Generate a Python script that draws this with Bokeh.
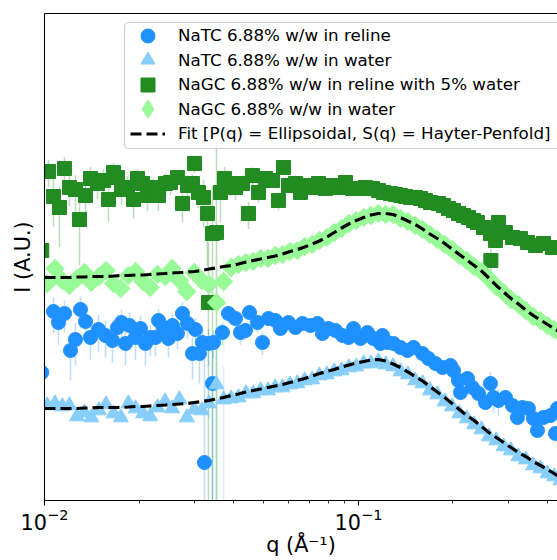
import numpy as np
from bokeh.plotting import figure
from bokeh.models import (Range1d, LogAxis, FixedTicker, Legend, LegendItem,
                          BoxAnnotation, LogTickFormatter)
from bokeh.embed import file_html
from bokeh.resources import INLINE

# ---------------- data (q in 1/Angstrom, I in arbitrary units) ----------------
natc_reline_q = [0.0098, 0.01068, 0.01108, 0.01158, 0.01210, 0.01255, 0.01302, 0.01351, 0.01401, 0.01486,
                 0.01564, 0.01646, 0.01708, 0.01759, 0.01811, 0.01865, 0.01949, 0.02022, 0.02097, 0.02175,
                 0.02257, 0.02307, 0.02393, 0.02482, 0.02556, 0.02652, 0.02751, 0.02854, 0.02960, 0.03026,
                 0.03116, 0.03185, 0.03232, 0.03328, 0.03428, 0.03453, 0.03688, 0.03854, 0.04057, 0.04209,
                 0.04366, 0.04497, 0.04768, 0.04946, 0.05168, 0.05440, 0.05643, 0.05985, 0.06300, 0.06632,
                 0.07034, 0.07404, 0.07681, 0.08026, 0.08450, 0.08894, 0.09294, 0.09640, 0.1015, 0.1068,
                 0.1116, 0.1175, 0.1193, 0.1237, 0.1293, 0.1361, 0.1432, 0.1497, 0.1599, 0.1671,
                 0.1759, 0.1852, 0.1963, 0.2007, 0.2082, 0.2113, 0.2224, 0.2307, 0.2411, 0.2537,
                 0.2632, 0.2691, 0.2791, 0.2938, 0.3093, 0.3209, 0.3328, 0.3478, 0.3608, 0.3716,
                 0.3883, 0.4088, 0.4241, 0.4304]
natc_reline_I = [19.05, 77.62, 60.26, 74.13, 31.62, 40.74, 81.28, 61.66, 42.66, 51.29,
                 44.67, 39.81, 53.70, 60.26, 37.15, 56.23, 42.66, 52.48, 37.15, 42.66,
                 42.66, 63.10, 53.70, 41.69, 56.23, 46.77, 74.13, 58.88, 29.51, 51.29,
                 29.51, 38.02, 2.399, 37.15, 14.79, 38.02, 47.86, 74.13, 66.07, 47.86,
                 50.12, 75.86, 60.26, 38.02, 66.07, 63.10, 52.48, 60.26, 53.70, 58.88,
                 56.23, 58.88, 46.77, 52.48, 50.12, 44.67, 42.66, 52.48, 41.69, 47.86,
                 41.69, 37.15, 44.67, 38.02, 37.15, 33.88, 31.62, 33.88, 29.51, 26.30,
                 23.44, 21.38, 22.39, 19.95, 15.85, 12.02, 16.60, 13.49, 11.75, 9.550,
                 14.79, 10.72, 10.00, 10.72, 8.913, 6.761, 8.511, 8.318, 6.607, 5.012,
                 6.761, 7.079, 4.677, 8.318]
natc_reline_relerr = [0.9, 0.4, 0.4, 0.35, 0.5, 0.45, 0.35, 0.4, 0.4, 0.4,
                      0.4, 0.4, 0.35, 0.35, 0.4, 0.35, 0.4, 0.35, 0.4, 0.35,
                      0.35, 0.3, 0.3, 0.35, 0.3, 0.3, 0.3, 0.3, 0.45, 0.3,
                      0.5, 0.35, 10.0, 0.4, 1.2, 0.3, 0.25, 0.2, 0.2, 0.25,
                      0.2, 0.2, 0.2, 0.25, 0.15, 0.15, 0.15, 0.15, 0.15, 0.1,
                      0.1, 0.1, 0.1, 0.1, 0.1, 0.1, 0.1, 0.1, 0.1, 0.1,
                      0.1, 0.1, 0.1, 0.1, 0.1, 0.1, 0.1, 0.1, 0.1, 0.1,
                      0.1, 0.1, 0.1, 0.1, 0.15, 0.15, 0.1, 0.1, 0.1, 0.15,
                      0.3, 0.3, 0.3, 0.1, 0.1, 0.1, 0.1, 0.1, 0.1, 0.1,
                      0.1, 0.1, 0.1, 0.1]

water_q = [0.0102, 0.0108, 0.0114, 0.0120, 0.0127, 0.0134, 0.0141, 0.0149, 0.0157, 0.0166,
           0.0175, 0.0185, 0.0195, 0.0206, 0.0217, 0.0229, 0.0242, 0.0255, 0.0269, 0.0284,
           0.0300, 0.0317, 0.0334, 0.0353, 0.0372, 0.0393, 0.0415, 0.0438, 0.0462, 0.0488,
           0.0515, 0.0543, 0.0573, 0.0605, 0.0639, 0.0674, 0.0712, 0.0751, 0.0793, 0.0837,
           0.0883, 0.0932, 0.0984, 0.1039, 0.1096, 0.1157, 0.1221, 0.1289, 0.1361, 0.1436,
           0.1516, 0.1600, 0.1689, 0.1783, 0.1882, 0.1986, 0.2096, 0.2213, 0.2336, 0.2465,
           0.2602, 0.2747, 0.2899, 0.3060, 0.3230, 0.3410, 0.3600, 0.3800, 0.4000, 0.4200,
           0.4400]
natc_water_I = [8.913, 9.333, 8.710, 8.913, 6.918, 7.586, 6.761, 7.943, 9.120, 7.413,
                6.761, 9.333, 8.318, 7.413, 6.918, 8.511, 9.772, 8.318, 10.23, 6.761,
                8.128, 7.943, 9.333, 14.45, 10.23, 10.47, 10.72, 11.75, 11.75, 12.59,
                12.59, 13.49, 13.49, 14.45, 14.79, 15.85, 16.22, 17.78, 18.20, 19.50,
                19.95, 21.38, 21.88, 23.44, 23.44, 24.55, 22.91, 21.88, 19.50, 18.20,
                15.85, 14.79, 12.59, 11.48, 9.772, 8.710, 7.413, 6.607, 5.754, 5.129,
                4.365, 3.981, 3.467, 3.162, 2.754, 2.570, 2.239, 2.089, 1.862, 1.738,
                1.585]
natc_water_relerr = [0.08, 0.08, 0.08, 0.08, 0.08, 0.08, 0.08, 0.08, 0.08, 0.08,
                     0.08, 0.08, 0.08, 0.08, 0.08, 0.08, 0.08, 0.08, 0.08, 0.08,
                     0.08, 0.08, 0.3, 1.5, 1.2, 0.04, 0.04, 0.04, 0.04, 0.04,
                     0.04, 0.04, 0.04, 0.04, 0.04, 0.04, 0.04, 0.04, 0.04, 0.04,
                     0.04, 0.04, 0.04, 0.04, 0.04, 0.04, 0.04, 0.04, 0.04, 0.04,
                     0.04, 0.04, 0.04, 0.04, 0.04, 0.04, 0.04, 0.04, 0.04, 0.04,
                     0.04, 0.04, 0.04, 0.04, 0.04, 0.04, 0.04, 0.04, 0.04, 0.04,
                     0.04]

nagc_reline_q = [0.0098, 0.01030, 0.01068, 0.01116, 0.01158, 0.01201, 0.01255, 0.01293, 0.01351, 0.01401,
                 0.01475, 0.01541, 0.01599, 0.01659, 0.01708, 0.01759, 0.01838, 0.01921, 0.01978, 0.02051,
                 0.02128, 0.02224, 0.02307, 0.02429, 0.02519, 0.02652, 0.02751, 0.02854, 0.02960, 0.03004,
                 0.03093, 0.03209, 0.03304, 0.03328, 0.03428, 0.03530, 0.03635, 0.03743, 0.03911, 0.04057,
                 0.04271, 0.04464, 0.04596, 0.04803, 0.05056, 0.05322, 0.05561, 0.05769, 0.05985, 0.06300,
                 0.06536, 0.06880, 0.07190, 0.07459, 0.07852, 0.08266, 0.08638, 0.09092, 0.09570, 0.1000,
                 0.1053, 0.1108, 0.1158, 0.1201, 0.1264, 0.1312, 0.1361, 0.1412, 0.1464, 0.1519,
                 0.1576, 0.1634, 0.1695, 0.1798, 0.1865, 0.1935, 0.2007, 0.2082, 0.2160, 0.2240,
                 0.2324, 0.2393, 0.2501, 0.2632, 0.2640, 0.2731, 0.2791, 0.2938, 0.3093, 0.3280,
                 0.3453, 0.3661, 0.3883, 0.4148, 0.4304]
nagc_reline_I = [316.2, 1950, 1096, 851.1, 2089, 1349, 1288, 645.7, 1122, 1660,
                 1479, 1585, 1023, 1905, 1698, 1288, 1349, 1023, 1660, 1479,
                 1122, 1349, 1122, 1479, 1514, 1698, 933.3, 1413, 1479, 2344,
                 1202, 1072, 741.3, 95.50, 467.7, 478.6, 1202, 1660, 1479, 1349,
                 1479, 741.3, 1778, 1202, 1660, 1585, 1000, 2138, 1413, 1479,
                 1202, 1413, 1349, 1479, 1318, 1413, 1349, 1514, 1318, 1318,
                 1349, 1318, 1259, 1202, 1175, 1148, 1122, 1096, 1072, 1072,
                 1047, 1000, 955.0, 933.3, 891.3, 831.8, 794.3, 741.3, 707.9, 676.1,
                 631.0, 602.6, 537.0, 467.7, 251.2, 398.1, 602.6, 478.6, 426.6, 416.9,
                 380.2, 354.8, 371.5, 338.8, 338.8]
nagc_reline_relerr = [0.5, 0.3, 0.5, 0.6, 0.3, 0.35, 0.4, 0.65, 0.4, 0.3,
                      0.3, 0.3, 0.4, 0.25, 0.25, 0.3, 0.3, 0.35, 0.25, 0.25,
                      0.3, 0.25, 0.3, 0.25, 0.25, 0.2, 0.35, 0.25, 0.25, 0.2,
                      0.3, 0.5, 0.7, 3.0, 2.0, 7.0, 0.5, 0.3, 0.25, 0.25,
                      0.2, 0.3, 0.2, 0.2, 0.15, 0.15, 0.2, 0.15, 0.1, 0.1,
                      0.1, 0.1, 0.1, 0.1, 0.1, 0.1, 0.1, 0.1, 0.1, 0.1,
                      0.1, 0.1, 0.1, 0.1, 0.1, 0.1, 0.1, 0.1, 0.1, 0.1,
                      0.1, 0.1, 0.1, 0.1, 0.1, 0.1, 0.1, 0.1, 0.1, 0.1,
                      0.1, 0.1, 0.1, 0.1, 0.3, 0.1, 0.1, 0.1, 0.1, 0.1,
                      0.1, 0.1, 0.1, 0.1, 0.1]

nagc_water_I = [147.9, 208.9, 158.5, 141.3, 166.0, 190.5, 151.4, 173.8, 199.5, 147.9,
                131.8, 177.8, 195.0, 154.9, 134.9, 182.0, 173.8, 208.9, 158.5, 123.0,
                190.5, 158.5, 144.5, 95.50, 154.9, 213.8, 229.1, 239.9, 245.5, 263.0,
                263.0, 281.8, 288.4, 309.0, 316.2, 346.7, 363.1, 398.1, 426.6, 478.6,
                524.8, 588.8, 631.0, 676.1, 707.9, 741.3, 724.4, 724.4, 660.7, 616.6,
                562.3, 512.9, 457.1, 407.4, 363.1, 323.6, 281.8, 251.2, 218.8, 195.0,
                166.0, 138.0, 120.2, 102.3, 91.20, 79.43, 69.18, 63.10, 56.23, 51.29,
                46.77]
nagc_water_relerr = [0.08, 0.08, 0.08, 0.08, 0.08, 0.08, 0.08, 0.08, 0.08, 0.08,
                     0.08, 0.08, 0.08, 0.08, 0.08, 0.08, 0.08, 0.08, 0.08, 0.08,
                     0.08, 0.08, 0.4, 2.0, 0.8, 0.04, 0.04, 0.04, 0.04, 0.04,
                     0.04, 0.04, 0.04, 0.04, 0.04, 0.04, 0.04, 0.04, 0.04, 0.04,
                     0.04, 0.04, 0.04, 0.04, 0.04, 0.04, 0.04, 0.04, 0.04, 0.04,
                     0.04, 0.04, 0.04, 0.04, 0.04, 0.04, 0.04, 0.04, 0.04, 0.04,
                     0.04, 0.04, 0.04, 0.04, 0.04, 0.04, 0.04, 0.04, 0.04, 0.04,
                     0.04]

fit_q = [0.0100] + water_q
fit_natc_water = [8.318, 8.318, 8.318, 8.318, 8.318, 8.318, 8.414, 8.414, 8.511, 8.511,
                  8.511, 8.511, 8.610, 8.710, 8.710, 8.810, 8.913, 9.016, 9.120, 9.226,
                  9.333, 9.550, 9.772, 10.00, 10.35, 10.72, 11.22, 11.61, 12.16, 12.59,
                  13.03, 13.49, 13.96, 14.45, 15.14, 15.85, 16.60, 17.58, 18.62, 19.50,
                  20.42, 21.63, 22.65, 23.71, 24.55, 25.41, 25.70, 24.83, 23.17, 21.38,
                  19.28, 17.38, 15.67, 13.80, 12.16, 10.72, 9.333, 8.128, 7.079, 6.310,
                  5.495, 4.786, 4.266, 3.802, 3.388, 3.020, 2.754, 2.455, 2.239, 2.042,
                  1.862, 1.698]
fit_nagc_water = [169.8, 169.8, 169.8, 169.8, 169.8, 171.8, 171.8, 173.8, 173.8, 173.8,
                  175.8, 177.8, 177.8, 179.9, 179.9, 182.0, 184.1, 186.2, 188.4, 190.5,
                  192.8, 195.0, 199.5, 206.5, 211.3, 218.8, 223.9, 231.7, 242.7, 251.2,
                  260.0, 269.2, 278.6, 291.7, 309.0, 323.6, 342.8, 367.3, 393.6, 431.5,
                  478.6, 530.9, 582.1, 631.0, 676.1, 716.1, 741.3, 741.3, 724.4, 676.1,
                  623.7, 575.4, 518.8, 462.4, 416.9, 371.5, 327.3, 288.4, 254.1, 223.9,
                  197.2, 167.9, 141.3, 121.6, 104.7, 92.26, 80.35, 70.79, 63.83, 57.54,
                  52.48, 47.86]

x_major_ticks = [0.01, 0.1]
x_minor_ticks = [0.02, 0.03, 0.04, 0.05, 0.06, 0.07, 0.08, 0.09, 0.2, 0.3, 0.4]

labels = ["NaTC 6.88% w/w in reline",
          "NaTC 6.88% w/w in water",
          "NaGC 6.88% w/w in reline with 5% water",
          "NaGC 6.88% w/w in water",
          "Fit [P(q) = Ellipsoidal, S(q) = Hayter-Penfold]"]

# ---------------- styles ----------------
C_NATC_RELINE = "#1E90FF"
C_NATC_WATER = "#87CEFA"
C_NAGC_RELINE = "#228B22"
C_NAGC_WATER = "#98FB98"
FONT = "DejaVu Sans"

p = figure(frame_width=513, frame_height=487, x_axis_type="log", y_axis_type="log",
           x_range=Range1d(0.01, 0.4304), y_range=Range1d(1, 74131),
           output_backend="svg", toolbar_location=None,
           min_border_left=44, min_border_right=0, min_border_top=13,
           min_border_bottom=56)
p.outline_line_color = None
p.xgrid.visible = False
p.ygrid.visible = False
p.background_fill_color = "white"
p.border_fill_color = "white"


def bars(q, I, rel):
    q = np.asarray(q, float)
    I = np.asarray(I, float)
    r = np.asarray(rel, float)
    lo = np.maximum(I * (1 - r), 1e-3)
    hi = I * (1 + r)
    return q, lo, hi


series = [
    (natc_reline_q, natc_reline_I, natc_reline_relerr, C_NATC_RELINE, "circle", 14, 0.0),
    (water_q, natc_water_I, natc_water_relerr, C_NATC_WATER, "triangle", 15, 0.0),
    (nagc_reline_q, nagc_reline_I, nagc_reline_relerr, C_NAGC_RELINE, "square", 14, 0.0),
    (water_q, nagc_water_I, nagc_water_relerr, C_NAGC_WATER, "square", 13, np.pi / 4),
]

# error bars first (beneath all markers)
for q, I, rel, col, mk, sz, ang in series:
    bq, lo, hi = bars(q, I, rel)
    p.segment(x0=bq, y0=lo, x1=bq, y1=hi, line_color=col, line_alpha=0.3,
              line_width=1.5)

marker_renderers = []
for q, I, rel, col, mk, sz, ang in series:
    r = p.scatter(x=q, y=I, marker=mk, size=sz, angle=ang, fill_color=col,
                  line_color=col, line_width=1)
    marker_renderers.append(r)

fit1 = p.line(fit_q, fit_natc_water, line_color="black", line_width=3.2,
              line_dash="11 5")
fit2 = p.line(fit_q, fit_nagc_water, line_color="black", line_width=3.2,
              line_dash="11 5")

# legend-only diamond key (legend glyphs are drawn unrotated); NaN -> not plotted
diamond_key = p.scatter(x=[np.nan], y=[np.nan], marker="diamond", size=18,
                        fill_color=C_NAGC_WATER, line_color=C_NAGC_WATER)

# axes
p.xaxis.ticker = FixedTicker(ticks=x_major_ticks, minor_ticks=x_minor_ticks)
p.xaxis.formatter = LogTickFormatter()
p.xaxis.axis_label = "q (Å⁻¹)"
p.yaxis.axis_label = "I (A.U.)"
p.yaxis.ticker = FixedTicker(ticks=[], minor_ticks=[])
for ax in (p.xaxis, p.yaxis):
    ax.axis_label_text_font = FONT
    ax.axis_label_text_font_size = "20.8px"
    ax.axis_label_text_font_style = "normal"
    ax.axis_label_text_color = "black"
    ax.major_label_text_font = FONT
    ax.major_label_text_font_size = "20.8px"
    ax.major_label_text_color = "black"
    ax.axis_line_color = "black"
    ax.axis_line_width = 1.1
    ax.major_tick_line_color = "black"
    ax.minor_tick_line_color = "black"
    ax.major_tick_line_width = 1.1
    ax.minor_tick_line_width = 0.8
    ax.major_tick_in = 0
    ax.minor_tick_in = 0
    ax.major_tick_out = 5
    ax.minor_tick_out = 3
p.xaxis.major_label_standoff = 2
p.xaxis.axis_label_standoff = 0
p.yaxis.axis_label_standoff = 10

top_axis = LogAxis(ticker=FixedTicker(ticks=[], minor_ticks=[]),
                   major_label_text_font_size="0px", axis_line_color="black",
                   axis_line_width=1.1, major_tick_out=0, minor_tick_out=0)
p.add_layout(top_axis, "above")

# legend frame
box = BoxAnnotation(left=80, right=530, top=478, bottom=352,
                    left_units="screen", right_units="screen",
                    top_units="screen", bottom_units="screen",
                    fill_color="white", fill_alpha=0.8,
                    line_color="#cccccc", line_alpha=0.9, line_width=1.2,
                    border_radius=4)
p.add_layout(box)

# one legend per row so the key symbols can be full size
FRAME_H = 487
row_centers = [35 - 13, 59.5 - 13, 84 - 13, 108.5 - 13, 133 - 13]  # from frame top
row_renderers = [marker_renderers[0], marker_renderers[1], marker_renderers[2],
                 diamond_key, fit1]
for i in range(5):
    g = 45 if i == 3 else 35
    x_loc = 103.5 - g / 2
    standoff = int(round(134 - (x_loc + g)))
    y_loc = FRAME_H - row_centers[i] - g / 2
    lg = Legend(items=[LegendItem(label=labels[i], renderers=[row_renderers[i]])],
                location=(x_loc, y_loc), padding=0, margin=0, spacing=0,
                glyph_width=g, glyph_height=g, label_standoff=standoff,
                label_text_font=FONT, label_text_font_size="16.7px",
                label_text_color="black", border_line_color=None,
                background_fill_alpha=0)
    p.add_layout(lg)

open("out.html", "w").write(file_html(p, INLINE))
